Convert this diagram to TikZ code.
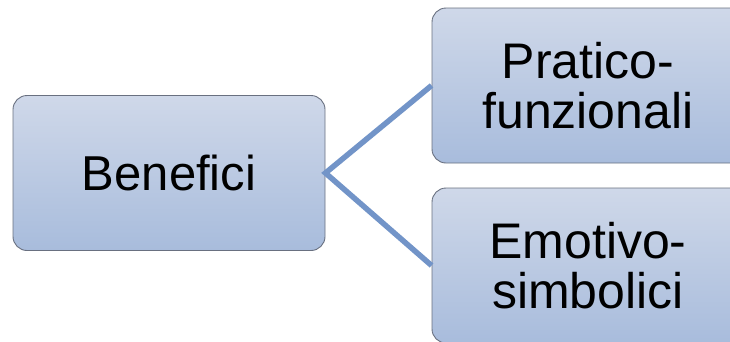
\documentclass[tikz,border=0pt]{standalone}
\usepackage{fontspec}
\setmainfont{Liberation Sans}
\definecolor{boxtop}{RGB}{207,216,233}
\definecolor{boxbot}{RGB}{168,188,220}
\definecolor{boxline}{RGB}{105,112,128}
\definecolor{linkblue}{RGB}{114,148,200}
\begin{document}
\begin{tikzpicture}[x=1pt,y=-1pt,
  box/.style={draw=boxline, line width=0.9pt, rounded corners=14pt, top color=boxtop, bottom color=boxbot,
    minimum width=312pt, minimum height=155pt, align=center, inner sep=0pt},
  link/.style={draw=linkblue, line width=5.5pt}]
\clip (0,0) rectangle (730,341);
\node[box, font=\fontsize{49}{56}\selectfont] (ben) at (169,173) {Benefici};
\node[box, font=\fontsize{50}{50}\selectfont] (prat) at (588,85.5) {Pratico-\\funzionali};
\node[box, font=\fontsize{50}{50}\selectfont] (emo) at (588,265.5) {Emotivo-\\simbolici};

\draw[link, yshift=-4pt] (prat.west) -- (ben.east) -- (emo.west);
\end{tikzpicture}
\end{document}
